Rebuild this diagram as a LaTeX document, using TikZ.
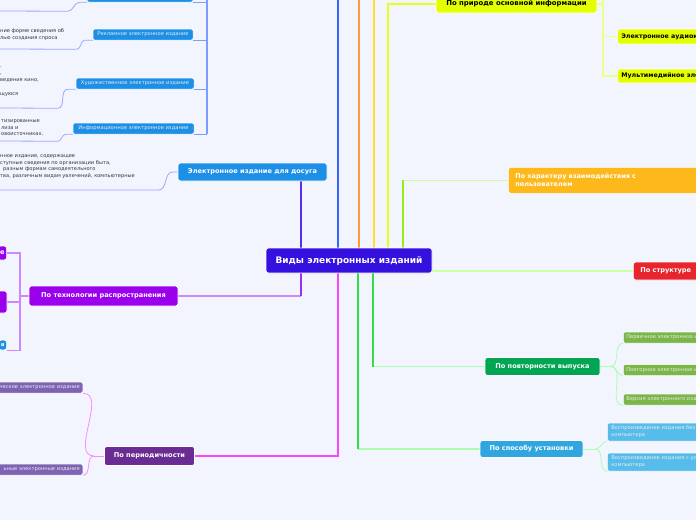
\documentclass[tikz,border=0pt]{standalone}
\usepackage{fontspec}
\setmainfont{DejaVu Sans}
\usetikzlibrary{positioning,backgrounds}

\definecolor{pagebg}{HTML}{F3F5FE}
\definecolor{rootc}{HTML}{3510DF}
\definecolor{bluec}{HTML}{1C8FE6}
\definecolor{purplec}{HTML}{9A00EC}
\definecolor{plumc}{HTML}{6A2B92}
\definecolor{plumleaf}{HTML}{7E62B4}
\definecolor{limec}{HTML}{E4FF00}
\definecolor{amberc}{HTML}{FDB81C}
\definecolor{redc}{HTML}{E8242C}
\definecolor{greenc}{HTML}{00A651}
\definecolor{greenleaf}{HTML}{7AB648}
\definecolor{skyc}{HTML}{30A6E0}
\definecolor{skyleaf}{HTML}{55BCEC}
\definecolor{descc}{HTML}{333344}
% цвета связей
\definecolor{blueA}{HTML}{3366FF}
\definecolor{orangeA}{HTML}{FF9A3C}
\definecolor{yellowA}{HTML}{FFDD33}
\definecolor{limeA}{HTML}{E8FF1A}
\definecolor{limeB}{HTML}{EEFF88}
\definecolor{violetA}{HTML}{5A2EE8}
\definecolor{lilacA}{HTML}{CC88FF}
\definecolor{purpleA}{HTML}{9B30F0}
\definecolor{magentaA}{HTML}{FF44FF}
\definecolor{magentaB}{HTML}{FF88FF}
\definecolor{greenA}{HTML}{33DD44}
\definecolor{greenB}{HTML}{A8FFB0}
\definecolor{chartA}{HTML}{99EE11}
\definecolor{chartB}{HTML}{D0FF99}
\definecolor{paleG}{HTML}{CCFFAA}
\definecolor{skyA}{HTML}{7F9CFF}
\definecolor{periA}{HTML}{9AA8FF}

\begin{document}
\begin{tikzpicture}[x=1pt,y=-1pt, line join=round, line cap=round,
	mmbox/.style={rounded corners=2.5pt, draw=white, line width=0.7pt, inner sep=0pt, text=white, font=\bfseries\fontsize{6.6}{8}\selectfont},
	mmleaf/.style={rounded corners=1.5pt, draw=white, line width=0.5pt, inner xsep=3pt, inner ysep=0pt, minimum height=11pt, text=white!92!black, font=\fontsize{5.2}{7}\selectfont},
	mmdesc/.style={anchor=north west, inner sep=0pt, align=left, text=descc, font=\fontsize{5.1}{6.7}\selectfont},
	trunk/.style={line width=2pt},
	branch/.style={line width=1.2pt},
	twig/.style={line width=0.8pt}]
	\useasboundingbox (0,0) rectangle (696,520);
	% центр
	\node[mmbox, fill=rootc, minimum width=166pt, minimum height=25pt, font=\bfseries\fontsize{9}{10}\selectfont] (root) at (349,260.5) {Виды электронных изданий};
	% левая верхняя ветвь
	\node[mmleaf, fill=bluec, minimum width=106pt, minimum height=12pt] (adtop) at (140,-4) {};
	\node[mmleaf, fill=bluec, minimum width=100pt] (advert) at (143,34.5) {Рекламное электронное издание};
	\node[mmleaf, fill=bluec, minimum width=118pt] (fiction) at (135,83.5) {Художественное электронное издание};
	\node[mmleaf, fill=bluec, minimum width=121pt] (inform) at (133.5,128.5) {Информационное электронное издание};
	\node[mmbox, fill=bluec, minimum width=149pt, minimum height=18pt] (leisure) at (252.5,172) {Электронное издание для досуга};
	% пояснения
	\node[mmdesc] (advertd) at (0,28.5) {ние форме сведения об\\лью создания спроса};
	\node[mmdesc, font=\fontsize{5.1}{7}\selectfont] (fictiond) at (0,67) {.\\,\\ведения кино,\\\mbox{}\\щуюся};
	\node[mmdesc, font=\fontsize{5.1}{6.5}\selectfont] (informd) at (1,119.5) {тизированные\\лиза и\\овоисточниках.};
	\node[mmdesc] (leisured) at (0,154.5) {нное издание, содержащее\\ступные сведения по организации быта,\\\hspace{3pt}разным формам самодеятельного\\тва, различным видам увлечений, компьютерные};
	% технология распространения
	\node[mmbox, fill=purplec, minimum width=149pt, minimum height=20pt] (techdist) at (103.5,296) {По технологии распространения};
	\node[mmbox, fill=purplec, anchor=east, minimum height=14pt, inner xsep=2pt] (techa) at (7,253) {е};
	\node[mmbox, fill=purplec, minimum width=24pt, minimum height=22pt] (techb) at (-5,302) {};
	\node[mmbox, fill=bluec, anchor=east, minimum height=10pt, inner xsep=2pt, font=\bfseries\fontsize{5.5}{6}\selectfont] (techc) at (7,345) {а};
	% периодичность
	\node[mmbox, fill=plumc, minimum width=90pt, minimum height=19pt] (period) at (149.5,456) {По периодичности};
	\node[mmleaf, fill=plumleaf, anchor=east, text width=86pt, align=right] (periodic) at (83,387.5) {ическое электронное издание};
	\node[mmleaf, fill=plumleaf, anchor=east, text width=86pt, align=right] (serial) at (83,469.5) {ьные электронные издания};
	% правая сторона
	\node[mmbox, fill=limec, text=black, minimum width=161pt, minimum height=18pt, font=\bfseries\fontsize{6.9}{8}\selectfont] (nature) at (516.5,4) {По природе основной информации};
	\node[mmbox, fill=limec, text=black, anchor=west, minimum height=15pt, inner xsep=4pt, font=\bfseries\fontsize{6.3}{8}\selectfont] (audio) at (617,36.5) {Электронное аудиоиздание};
	\node[mmbox, fill=limec, text=black, anchor=west, minimum height=14pt, inner xsep=4pt, font=\bfseries\fontsize{6.3}{8}\selectfont] (multi) at (617,76) {Мультимедийное электронное издание};
	\node[mmbox, fill=amberc, anchor=north west, minimum height=26pt, text width=185pt, align=left, inner xsep=7pt, font=\bfseries\fontsize{6.5}{8}\selectfont] (interact) at (508,167) {По характеру взаимодействия с\\пользователем};
	\node[mmbox, fill=redc, anchor=west, minimum height=18pt, text width=66pt, align=left, inner xsep=7pt] (struct) at (633,271) {По структуре};
	\node[mmbox, fill=greenc, minimum width=115pt, minimum height=18pt] (reissue) at (542.5,366.5) {По повторности выпуска};
	\node[mmleaf, fill=greenleaf, anchor=west] (primary) at (623,337.5) {Первичное электронное издание};
	\node[mmleaf, fill=greenleaf, anchor=west] (repeated) at (623,370) {Повторное электронное издание};
	\node[mmleaf, fill=greenleaf, anchor=west] (version) at (623,399.5) {Версия электронного издания};
	\node[mmbox, fill=skyc, minimum width=103pt, minimum height=17pt] (install) at (531.5,449) {По способу установки};
	\node[mmleaf, fill=skyleaf, anchor=west, minimum height=18pt, align=left, inner xsep=4pt] (noinst) at (607,432) {Воспроизведение издания без установки на жесткий диск\\компьютера};
	\node[mmleaf, fill=skyleaf, anchor=west, minimum height=18pt, align=left, inner xsep=4pt] (withinst) at (607,462) {Воспроизведение издания с установкой на жесткий диск\\компьютера};

	\begin{scope}[on background layer]
		\fill[pagebg] (0,0) rectangle (696,520);
		\coordinate (topA) at (338,0);
		\coordinate (topB) at (359,0);
		\coordinate (topC) at (374,0);
		\coordinate (natbend) at (388,0);
		\coordinate (techdrop) at ([xshift=-48pt]root.south);
		\coordinate (perdrop) at ([xshift=-11pt]root.south);
		\coordinate (instdrop) at ([xshift=9pt]root.south);
		\coordinate (reisdrop) at ([xshift=24pt]root.south);
		\coordinate (interup) at ([xshift=54pt]root.north);
		% стволы
		\draw[trunk, draw=blueA] (topA |- root.north) -- (topA);
		\draw[trunk, draw=orangeA] (topB |- root.north) -- (topB);
		\draw[trunk, draw=yellowA] (topC |- root.north) -- (topC);
		\draw[trunk, draw=limeA] (natbend |- root.north) |- (nature.west);
		\draw[trunk, draw=violetA] ([xshift=-26pt]leisure.south east) -- ([xshift=-26pt]leisure.south east |- root.north);
		\draw[branch, draw=lilacA] (techdist.east) -- (techdist.east -| techdrop);
		\draw[trunk, draw=purpleA] (techdist.east -| techdrop) -- (techdrop);
		\draw[branch, draw=magentaA] (period.east) -| (perdrop);
		\draw[branch, draw=greenB] (install.west) -- (install.west -| instdrop);
		\draw[trunk, draw=greenA] (install.west -| instdrop) -- (instdrop);
		\draw[branch, draw=greenB] (reissue.west) -- (reissue.west -| reisdrop);
		\draw[trunk, draw=greenA] (reissue.west -| reisdrop) -- (reisdrop);
		\draw[branch, draw=chartB] (interact.west) -- (interact.west -| interup);
		\draw[trunk, draw=chartA] (interact.west -| interup) -- (interup);
		\draw[branch, draw=paleG] (root.east |- struct.west) -- (struct.west);
		% левая синяя ветвь
		\coordinate (spine) at (207,0);
		\draw[branch, draw=skyA] (spine) -- (spine |- inform.south);
		\draw[branch, draw=skyA] (adtop.south east) -- (adtop.south east -| spine);
		\draw[branch, draw=skyA] (advert.south east) -- (advert.south east -| spine);
		\draw[branch, draw=skyA] (fiction.south east) -- (fiction.south east -| spine);
		\draw[branch, draw=skyA] (inform.south east) -- (inform.south east -| spine);
		% подчёркивания пояснений
		\coordinate (adtopEnd) at (0,11);
		\coordinate (advertEnd) at (0,49);
		\coordinate (fictionEnd) at (0,108);
		\coordinate (informEnd) at (0,141);
		\coordinate (leisureEnd) at (0,190);
		\draw[twig, draw=periA] (adtop.south west) -- ++(-7,0) to[out=180,in=0] ++(-12,9) -- (adtopEnd);
		\draw[twig, draw=periA] (advert.south west) -- ++(-8,0) to[out=180,in=0] ++(-8,9) -- (advertEnd);
		\draw[twig, draw=periA] (fiction.south west) -- ++(-8,0) to[out=180,in=0] ++(-10,19) -- (fictionEnd);
		\draw[twig, draw=periA] (inform.south west) -- ++(-7,0) to[out=180,in=0] ++(-8,7) -- (informEnd);
		\draw[twig, draw=periA] (leisure.west) -- ++(-5,0) to[out=180,in=0] ++(-14,18) -- (leisureEnd);
		% дети технологии
		\coordinate (techspine) at (20,0);
		\draw[branch, draw=lilacA] (techdist.west) -- (techdist.west -| techspine);
		\draw[branch, draw=lilacA] (techa.east) -| (techspine |- techc.south east) -- (techc.south east);
		\draw[branch, draw=lilacA] (techb.east) -- (techb.east -| techspine);
		% дети периодичности
		\draw[twig, draw=magentaB] (period.west) -- ++(-10,0) coordinate (pfork);
		\draw[twig, draw=magentaB] (pfork) to[out=180,in=0] (periodic.south east);
		\draw[twig, draw=magentaB] (pfork) to[out=180,in=0] (serial.south east);
		% дети повторности
		\draw[twig, draw=greenB] (reissue.east) -- ++(10,0) coordinate (rfork);
		\foreach \kid in {primary,repeated,version}
			\draw[twig, draw=greenB] (rfork) to[out=0,in=180] (\kid.south west);
		% дети установки
		\draw[twig, draw=greenB] (install.east) -- ++(12,0) coordinate (ifork);
		\foreach \kid in {noinst,withinst}
			\draw[twig, draw=greenB] (ifork) to[out=0,in=180] (\kid.south west);
		% дети природы информации
		\coordinate (natspine) at (603,0);
		\draw[branch, draw=limeB] (nature.east) -- (nature.east -| natspine);
		\draw[branch, draw=limeB] (natspine) |- (multi.west);
		\draw[branch, draw=limeB] (audio.west) -- (audio.west -| natspine);
	\end{scope}
\end{tikzpicture}
\end{document}
